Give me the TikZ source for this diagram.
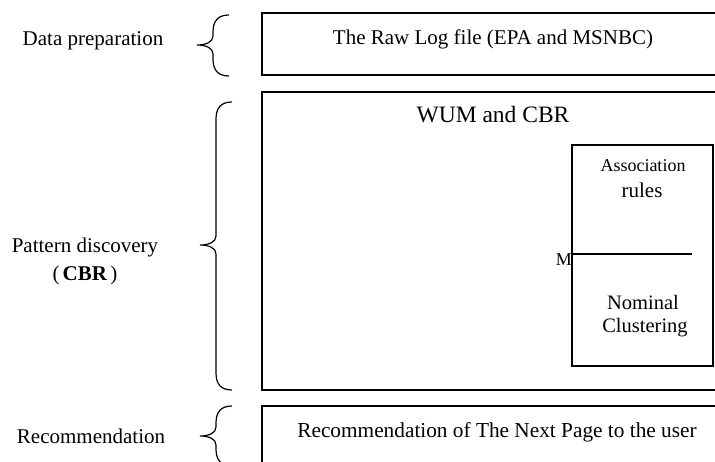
\documentclass[tikz,border=0pt]{standalone}
\usepackage{fontspec}
\setmainfont{Liberation Serif}
\usetikzlibrary{positioning}

% curly brace pointing left: x of tip, y top, y tip, y bottom
\newcommand{\stagebrace}[4]{%
\draw [bracket] (#1+32,#2) .. controls (#1+21,#2) and (#1+16,#2+6) .. (#1+16,#2+17)
  -- (#1+16,#3-9) .. controls (#1+16,#3-3) and (#1+9,#3) .. (#1,#3)
  .. controls (#1+9,#3) and (#1+16,#3+3) .. (#1+16,#3+9)
  -- (#1+16,#4-17) .. controls (#1+16,#4-6) and (#1+21,#4) .. (#1+32,#4);}

\tikzset{
  frame/.style={line width=1.4pt},
  bracket/.style={line width=1.2pt},
  label/.style={anchor=base, inner sep=0pt, font=\fontsize{21}{25}\selectfont},
  small/.style={anchor=base, inner sep=0pt, font=\fontsize{18}{22}\selectfont},
}

\begin{document}
\begin{tikzpicture}[x=1pt, y=-1pt]
\useasboundingbox (0,0) rectangle (715,462);
\clip (0,0) rectangle (715,462);

% stages on the left
\node [label] (prep) at (93,46) {Data preparation};
\node [label] (disc) at (85,253) {Pattern discovery};
\node [label] (cbr) at (85,281) {(\hspace{3pt}\textbf{CBR}\hspace{3pt})};
\node [label] (reco) at (91,443) {Recommendation};

\stagebrace{197}{15}{45}{76}
\stagebrace{200}{102}{245}{390}
\stagebrace{200}{406}{436}{466}

% boxes on the right
\draw [frame] (262,13) rectangle (760,75);
\draw [frame] (262,92) rectangle (760,390);
\draw [frame] (262,406) rectangle (760,490);
\node [label] (raw) at (493,45) {The Raw Log file (EPA and MSNBC)};
\node [label, font=\fontsize{23.5}{28}\selectfont] (wum) at (493,123) {WUM and CBR};
\node [label, font=\fontsize{21.3}{25}\selectfont] (next) at (497,437) {Recommendation of The Next Page to the user};

% methods box
\draw [frame] (572,145) rectangle (713,366);
\coordinate (split) at (572,254);
\draw [frame] (split) -- ++(120,0);
\node [small] (assoc) at (643,172) {Association};
\node [label] (rules) at (642,198) {rules};
\node [label, font=\fontsize{20.5}{25}\selectfont] (nominal) at (643,310) {Nominal};
\node [label, font=\fontsize{20.5}{25}\selectfont] (clust) at (645,333) {Clustering};
\node [small, anchor=base east] (m) at (572,266) {M};
\end{tikzpicture}
\end{document}
